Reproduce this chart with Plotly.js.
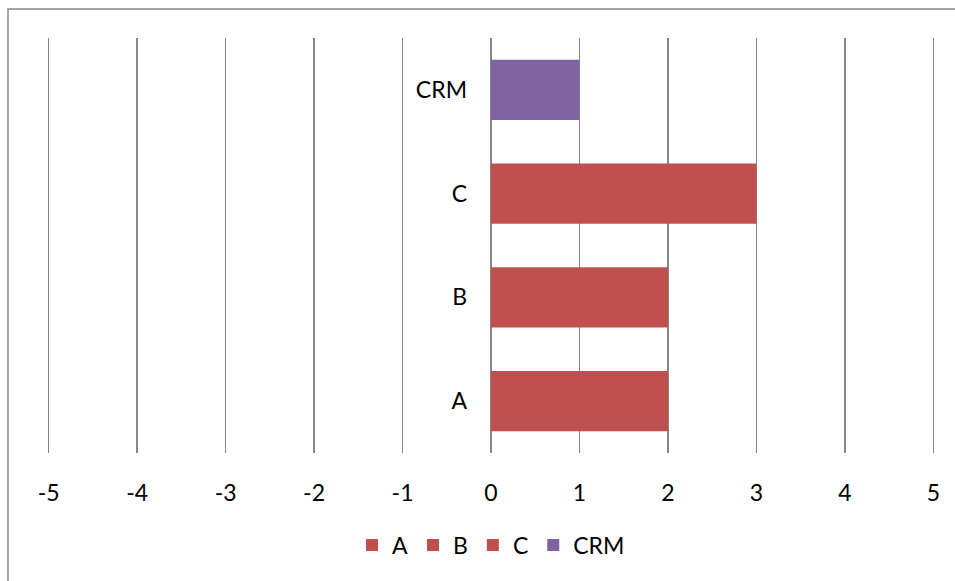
<!DOCTYPE html>
<html>
<head>
<meta charset="utf-8">
<script src="https://cdn.plot.ly/plotly-3.0.1.min.js"></script>
<style>
html,body{margin:0;padding:0;background:#fff;}
#chart{width:955px;height:581px;}
</style>
</head>
<body>
<div id="chart"></div>
<script>
const categories = ["A", "B", "C", "CRM"];
const values = [2, 2, 3, 1];
const colors = ["#C0504D", "#C0504D", "#C0504D", "#8064A2"];
const xTicks = [-5, -4, -3, -2, -1, 0, 1, 2, 3, 4, 5];
const xRange = [-5.03, 5.03];

const traces = categories.map((c, i) => ({
  type: "bar",
  orientation: "h",
  name: c,
  y: [c],
  x: [values[i]],
  marker: {color: colors[i]},
  hoverinfo: "x+y"
}));

// y axis drawn at x = 0, as a fraction of the x range
const zeroPos = (0 - xRange[0]) / (xRange[1] - xRange[0]);

const font = {family: "Lato, 'Open Sans', sans-serif", size: 23, color: "#000"};

const layout = {
  width: 955,
  height: 581,
  margin: {l: 46, r: 19, t: 38, b: 128},
  paper_bgcolor: "#fff",
  plot_bgcolor: "#fff",
  font: font,
  barmode: "overlay",
  bargap: 0.42,
  showlegend: true,
  legend: {
    orientation: "h",
    x: 0.5, xanchor: "center",
    y: -0.222, yanchor: "middle",
    font: font,
    itemwidth: 30,
    traceorder: "normal"
  },
  xaxis: {
    range: xRange,
    tickvals: xTicks,
    ticktext: xTicks.map(String),
    showgrid: true,
    gridcolor: "#868686",
    gridwidth: 1.6,
    zeroline: false,
    showline: false,
    ticks: "",
    ticklabelstandoff: 24,
    fixedrange: true
  },
  yaxis: {
    type: "category",
    categoryorder: "array",
    categoryarray: categories,
    anchor: "free",
    position: zeroPos,
    showgrid: false,
    zeroline: false,
    showline: false,
    ticks: "",
    ticklabelstandoff: 24,
    fixedrange: true
  },
  shapes: [{
    type: "rect",
    xref: "paper", yref: "paper",
    x0: -0.0427, x1: 1.3,
    y0: -0.6, y1: 1.07,
    line: {color: "#8a8a8a", width: 1.5},
    fillcolor: "rgba(0,0,0,0)",
    layer: "below"
  }]
};

Plotly.newPlot("chart", traces, layout, {displayModeBar: false, staticPlot: true});
</script>
</body>
</html>
